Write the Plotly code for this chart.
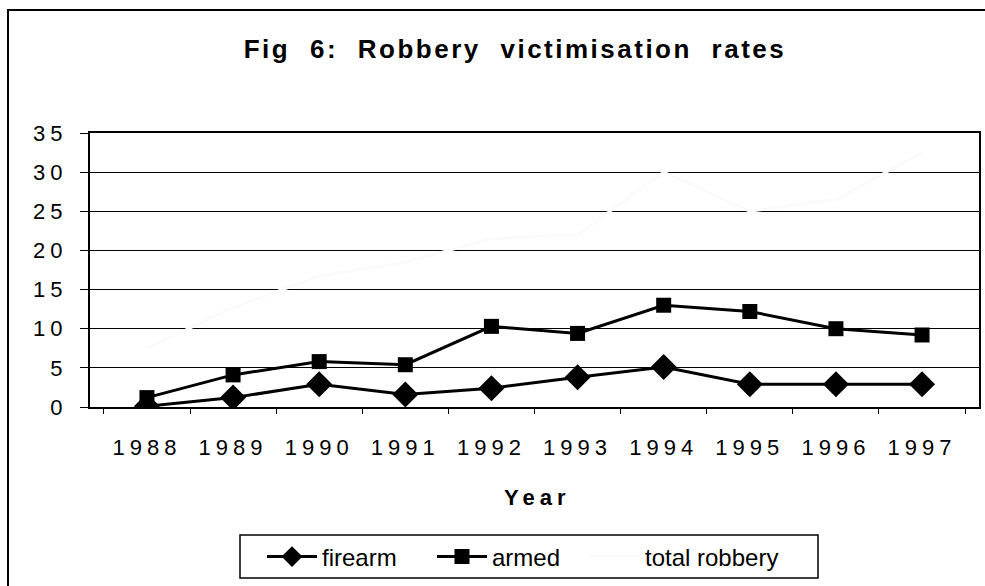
import plotly.graph_objects as go

years = ["1988", "1989", "1990", "1991", "1992", "1993", "1994", "1995", "1996", "1997"]
firearm = [0.1, 1.2, 2.9, 1.6, 2.4, 3.8, 5.1, 2.9, 2.9, 2.9]
armed = [1.2, 4.1, 5.8, 5.4, 10.3, 9.4, 13.0, 12.2, 10.0, 9.2]
total_robbery = [7.5, 12.7, 16.7, 18.5, 21.5, 22.0, 30.0, 25.0, 26.5, 32.5]
y_ticks = [0, 5, 10, 15, 20, 25, 30, 35]

FONT = "Liberation Sans, Arial, Helvetica, sans-serif"
W, H = 985, 586
L, R, T, B = 90, 6, 133, 179
PW, PH = W - L - R, H - T - B


def px(x):
    return (x - L) / PW


def py(y):
    return (H - B - y) / PH


fig = go.Figure()
fig.add_trace(go.Scatter(
    x=years, y=firearm, name="firearm", mode="lines+markers", legend="legend",
    line=dict(color="black", width=3),
    marker=dict(symbol="diamond", size=20, color="black")))
fig.add_trace(go.Scatter(
    x=years, y=armed, name="armed", mode="lines+markers", legend="legend2",
    line=dict(color="black", width=3),
    marker=dict(symbol="square", size=15, color="black")))
fig.add_trace(go.Scatter(
    x=years, y=total_robbery, name="total robbery", mode="lines", legend="legend3",
    line=dict(color="#fbfbfb", width=3), showlegend=True))

leg_common = dict(orientation="h", xanchor="left", yanchor="middle", y=py(557),
                  borderwidth=0, bgcolor="rgba(0,0,0,0)", itemwidth=50,
                  font=dict(size=24, family=FONT, color="black"))

fig.update_layout(
    width=W, height=H,
    margin=dict(l=L, r=R, t=T, b=B, autoexpand=False),
    paper_bgcolor="white", plot_bgcolor="white",
    font=dict(family=FONT, color="black"),
    title=dict(text="<b>Fig 6: Robbery victimisation rates</b>",
               font=dict(size=26, family=FONT, color="black"),
               x=515 / W, xanchor="center", xref="container",
               y=1 - 48.5 / H, yanchor="middle", yref="container"),
    legend=dict(x=px(262), **leg_common),
    legend2=dict(x=px(432), **leg_common),
    legend3=dict(x=px(585), **leg_common),
    showlegend=True,
)

fig.update_xaxes(
    type="category", categoryorder="array", categoryarray=years,
    showline=True, linecolor="black", linewidth=2, mirror=True,
    ticks="outside", tickson="boundaries", ticklen=5, tickcolor="black",
    tickfont=dict(size=22, family=FONT, color="black"),
    ticklabelstandoff=20, showgrid=False, zeroline=False,
)
fig.update_yaxes(
    range=[0, 35], tickmode="array", tickvals=y_ticks,
    showline=True, linecolor="black", linewidth=2, mirror=True,
    ticks="outside", ticklen=8, tickcolor="black",
    tickfont=dict(size=22, family=FONT, color="black"),
    ticklabelstandoff=8,
    showgrid=True, gridcolor="black", gridwidth=1.2, zeroline=False,
)

fig.add_annotation(text="<b>Year</b>", xref="paper", yref="paper",
                   x=px(537), y=py(497), xanchor="center", yanchor="middle",
                   showarrow=False, font=dict(size=22, family=FONT, color="black"))

# outer chart frame (left and top edges visible)
fig.add_shape(type="line", xref="paper", yref="paper",
              x0=px(8), x1=px(8), y0=py(9), y1=py(586),
              line=dict(color="black", width=2))
fig.add_shape(type="line", xref="paper", yref="paper",
              x0=px(8), x1=px(985), y0=py(10), y1=py(10),
              line=dict(color="black", width=2))
# legend box
fig.add_shape(type="rect", xref="paper", yref="paper",
              x0=px(240), x1=px(818), y0=py(535), y1=py(578),
              line=dict(color="black", width=1.5))

post = """
document.body.style.margin = '0';
var s = document.createElement('style');
s.innerHTML = 'body{margin:0;} .xtick text, .ytick text {letter-spacing: 5px;} .gtitle {word-spacing: 10px; letter-spacing: 2.5px;} .annotation-text {letter-spacing: 5px;}';
document.head.appendChild(s);
"""
fig.write_html("out.html", post_script=post, config={"displayModeBar": False})
